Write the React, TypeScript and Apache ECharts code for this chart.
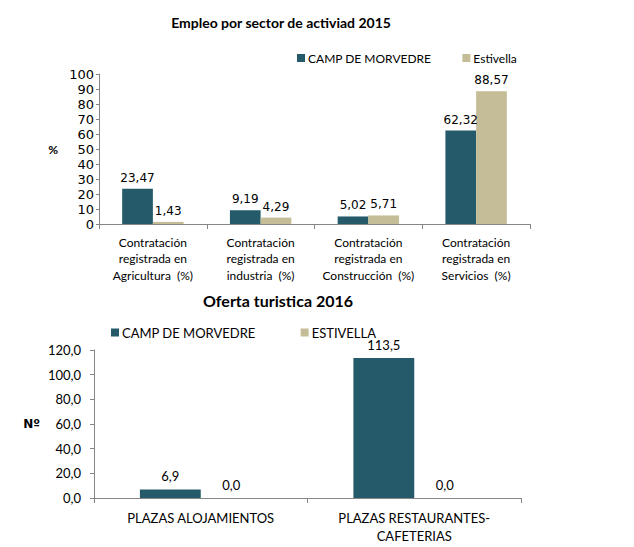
import React, { useEffect, useRef } from "react";
import * as echarts from "echarts";

const sectores = [
  "Contratación\nregistrada en\nAgricultura  (%)",
  "Contratación\nregistrada en\nindustria  (%)",
  "Contratación\nregistrada en\nConstrucción  (%)",
  "Contratación\nregistrada en\nServicios  (%)",
];
const empleoCamp = [23.47, 9.19, 5.02, 62.32];
const empleoEstivella = [1.43, 4.29, 5.71, 88.57];

const plazas = ["PLAZAS ALOJAMIENTOS", "PLAZAS RESTAURANTES-\nCAFETERIAS"];
const ofertaCamp = [6.9, 113.5];
const ofertaEstivella = [0.0, 0.0];

const TEAL = "#245A69";
const TAN = "#C4BD97";
const FONT = "Lato";
const NUMFONT = "DejaVu Sans";
const TXT = "#000";
const AXIS = "#868686";

export default function App() {
  const ref = useRef<HTMLDivElement>(null);
  useEffect(() => {
    if (!ref.current) return;
    const chart = echarts.init(ref.current, undefined, { renderer: "svg" });
    const lbl2 = (p: any) => Number(p.value).toFixed(2).replace(".", ",");
    const lbl1 = (p: any) => Number(p.value).toFixed(1).replace(".", ",");
    const line = { show: true, lineStyle: { color: AXIS, width: 1 } };
    chart.setOption({
      animation: false,
      textStyle: { fontFamily: FONT, color: TXT },
      title: [
        {
          text: "Empleo por sector de activiad 2015",
          left: 276,
          top: 10,
          textAlign: "center",
          textStyle: { fontFamily: FONT, fontSize: 14, fontWeight: "bold", color: TXT },
        },
        {
          text: "Oferta turistica 2016",
          left: 273,
          top: 287,
          textAlign: "center",
          textStyle: { fontFamily: FONT, fontSize: 16, fontWeight: "bold", color: TXT },
        },
      ],
      legend: [
        {
          data: ["CAMP DE MORVEDRE", "Estivella"],
          left: 292,
          top: 47,
          icon: "rect",
          itemWidth: 8,
          itemHeight: 8,
          itemGap: 31,
          textStyle: { fontFamily: FONT, fontSize: 12, color: TXT, padding: [0, 0, 0, -2] },
        },
        {
          data: ["CAMP DE MORVEDRE", "ESTIVELLA"],
          left: 106,
          top: 321,
          icon: "rect",
          itemWidth: 8,
          itemHeight: 8,
          itemGap: 45,
          textStyle: { fontFamily: FONT, fontSize: 13, color: TXT, padding: [0, 0, 0, -2] },
        },
      ],
      grid: [
        { left: 99, right: 104, top: 74, bottom: 323, containLabel: false },
        { left: 94, right: 113, top: 350, bottom: 49, containLabel: false },
      ],
      xAxis: [
        {
          type: "category",
          gridIndex: 0,
          data: sectores,
          axisLine: line,
          axisTick: { show: true, length: 5, lineStyle: { color: AXIS } },
          axisLabel: { fontFamily: FONT, fontSize: 12, color: TXT, lineHeight: 16.5, margin: 10, interval: 0 },
        },
        {
          type: "category",
          gridIndex: 1,
          data: plazas,
          axisLine: line,
          axisTick: { show: true, length: 5, lineStyle: { color: AXIS } },
          axisLabel: { fontFamily: FONT, fontSize: 13, color: TXT, lineHeight: 18, margin: 11, interval: 0 },
        },
      ],
      yAxis: [
        {
          type: "value",
          gridIndex: 0,
          min: 0,
          max: 100,
          interval: 10,
          axisLine: line,
          axisTick: { show: true, length: 3, lineStyle: { color: AXIS } },
          splitLine: { show: false },
          name: "%",
          nameLocation: "middle",
          nameRotate: 0,
          nameGap: 41,
          nameTextStyle: { fontFamily: FONT, fontSize: 12, fontWeight: "bold", color: TXT },
          axisLabel: { fontFamily: NUMFONT, fontSize: 13, color: TXT, margin: 5 },
        },
        {
          type: "value",
          gridIndex: 1,
          min: 0,
          max: 120,
          interval: 20,
          axisLine: line,
          axisTick: { show: true, length: 4, lineStyle: { color: AXIS } },
          splitLine: { show: false },
          name: "Nº",
          nameLocation: "middle",
          nameRotate: 0,
          nameGap: 54,
          nameTextStyle: { fontFamily: NUMFONT, fontSize: 12, fontWeight: "bold", color: TXT },
          axisLabel: {
            fontFamily: FONT,
            fontSize: 13,
            color: TXT,
            margin: 13,
            formatter: (v: number) => v.toFixed(1).replace(".", ","),
          },
        },
      ],
      series: [
        {
          name: "CAMP DE MORVEDRE",
          type: "bar",
          xAxisIndex: 0,
          yAxisIndex: 0,
          data: empleoCamp,
          itemStyle: { color: TEAL },
          barGap: "0%",
          barCategoryGap: "43%",
          label: { show: true, position: "top", distance: 5, formatter: lbl2, fontFamily: NUMFONT, fontSize: 12, color: TXT },
        },
        {
          name: "Estivella",
          type: "bar",
          xAxisIndex: 0,
          yAxisIndex: 0,
          data: empleoEstivella,
          itemStyle: { color: TAN },
          barGap: "0%",
          barCategoryGap: "43%",
          label: { show: true, position: "top", distance: 5, formatter: lbl2, fontFamily: NUMFONT, fontSize: 12, color: TXT },
        },
        {
          name: "CAMP DE MORVEDRE",
          type: "bar",
          xAxisIndex: 1,
          yAxisIndex: 1,
          data: ofertaCamp,
          itemStyle: { color: TEAL },
          barGap: "0%",
          barCategoryGap: "43%",
          label: { show: true, position: "top", distance: 7, formatter: lbl1, fontFamily: FONT, fontSize: 13, color: TXT },
        },
        {
          name: "ESTIVELLA",
          type: "bar",
          xAxisIndex: 1,
          yAxisIndex: 1,
          data: ofertaEstivella,
          itemStyle: { color: TAN },
          barGap: "0%",
          barCategoryGap: "43%",
          label: { show: true, position: "top", distance: 7, formatter: lbl1, fontFamily: FONT, fontSize: 13, color: TXT },
        },
      ],
    });
    return () => chart.dispose();
  }, []);
  return (
    <div
      ref={ref}
      style={{ position: "absolute", left: 0, top: 0, width: 634, height: 547, background: "#fff" }}
    />
  );
}
